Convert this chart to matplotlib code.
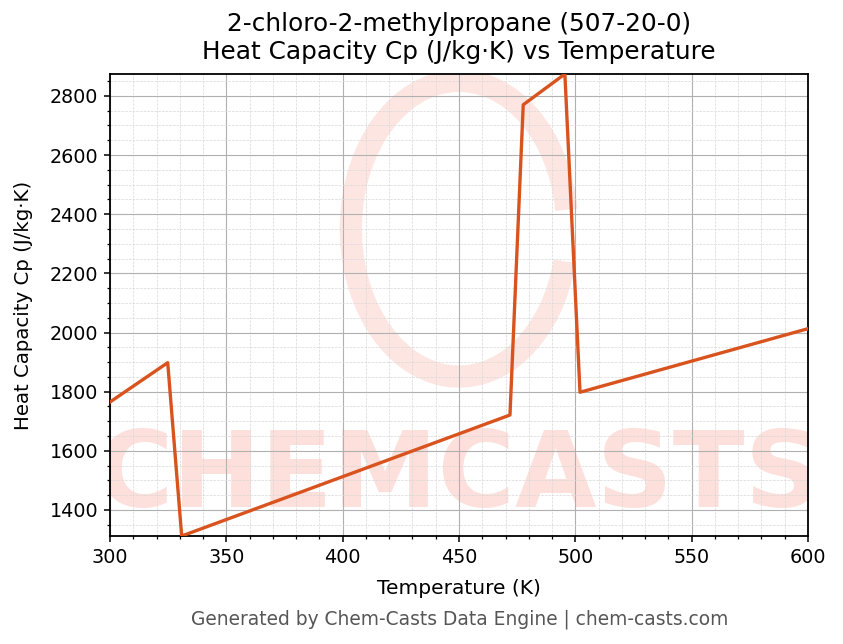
import matplotlib
matplotlib.use("Agg")
import matplotlib.pyplot as plt
from matplotlib.ticker import MultipleLocator
from matplotlib.patches import Arc

temperature_K = [300, 324.8, 330.8, 471.9, 477.6, 495.5, 502.0, 600]
cp_J_per_kgK = [1765, 1898, 1312, 1721, 2770, 2874, 1798, 2013]

title = "2-chloro-2-methylpropane (507-20-0)\nHeat Capacity Cp (J/kg·K) vs Temperature"
xlabel = "Temperature (K)"
ylabel = "Heat Capacity Cp (J/kg·K)"
footer = "Generated by Chem-Casts Data Engine | chem-casts.com"

fig = plt.figure(figsize=(8.43, 6.44), dpi=100)
ax = fig.add_axes([0.1305, 0.1677, 0.828, 0.7174])

# watermark
ax.text(0.5, 0.125, "CHEMCASTS", transform=ax.transAxes, ha="center", va="center",
        fontsize=76, fontweight="bold", color="#fdd9d3", alpha=0.8, zorder=0,
        clip_on=True)
arc = Arc((0.5, 0.665), 0.31, 0.64, angle=0, theta1=15, theta2=335,
          transform=ax.transAxes, color="#fde0db", lw=16, alpha=0.8, zorder=0)
ax.add_patch(arc)

ax.plot(temperature_K, cp_J_per_kgK, color="#d9531e", lw=2.4, zorder=3)

ax.set_xlim(300, 600)
ax.set_ylim(min(cp_J_per_kgK), max(cp_J_per_kgK))
ax.xaxis.set_major_locator(MultipleLocator(50))
ax.xaxis.set_minor_locator(MultipleLocator(10))
ax.yaxis.set_major_locator(MultipleLocator(200))
ax.yaxis.set_minor_locator(MultipleLocator(50))
ax.grid(which="major", color="#b0b0b0", lw=0.8, zorder=1)
ax.grid(which="minor", color="#d8d8d8", lw=0.5, ls="--", zorder=1)
ax.set_axisbelow(True)
ax.tick_params(labelsize=13.8)
ax.tick_params(which="major", length=4.5, width=1.1, pad=4)
ax.tick_params(which="minor", length=2.5, width=0.9)
for s in ax.spines.values():
    s.set_linewidth(1.3)

ax.set_title(title, fontsize=17.8, pad=11)
ax.set_xlabel(xlabel, fontsize=14.5, labelpad=9)
ax.set_ylabel(ylabel, fontsize=14.2, labelpad=12)
fig.text(0.545, 0.039, footer, ha="center", va="center", fontsize=13.4, color="#555555")

fig.savefig("out.png", dpi=100)
